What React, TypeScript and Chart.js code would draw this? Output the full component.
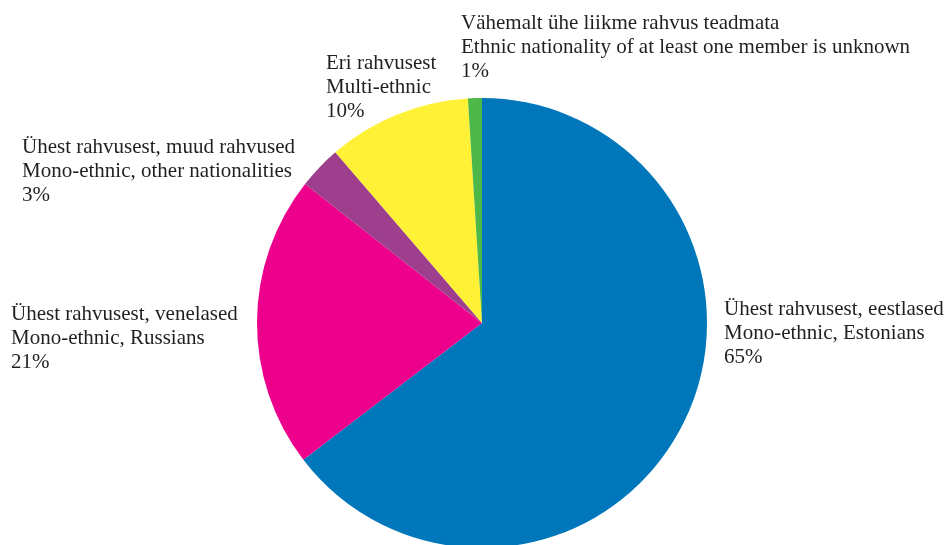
import React, { useEffect, useRef } from "react";
import { Chart, registerables } from "chart.js";

Chart.register(...registerables);

const categoriesEt = [
  "Ühest rahvusest, eestlased",
  "Ühest rahvusest, venelased",
  "Ühest rahvusest, muud rahvused",
  "Eri rahvusest",
  "Vähemalt ühe liikme rahvus teadmata",
];
const categoriesEn = [
  "Mono-ethnic, Estonians",
  "Mono-ethnic, Russians",
  "Mono-ethnic, other nationalities",
  "Multi-ethnic",
  "Ethnic nationality of at least one member is unknown",
];
const values = [64.6, 21.0, 3.1, 10.3, 1.0];
const percentLabels = ["65%", "21%", "3%", "10%", "1%"];
const colors = ["#0077BA", "#EC008C", "#9E3F8E", "#FFF136", "#4DB848"];

// label anchor (left x, first baseline y) per slice
const labelPos: [number, number][] = [
  [724, 315],
  [11, 320],
  [22, 153],
  [326, 69],
  [461, 29],
];

const labelPlugin = {
  id: "sliceLabels",
  afterDraw(chart: any) {
    const ctx = chart.ctx;
    ctx.save();
    ctx.font = "21px 'Liberation Serif', 'Times New Roman', serif";
    ctx.fillStyle = "#231F20";
    ctx.textAlign = "left";
    ctx.textBaseline = "alphabetic";
    for (let i = 0; i < values.length; i++) {
      const [x, y] = labelPos[i];
      const lines = [categoriesEt[i], categoriesEn[i], percentLabels[i]];
      lines.forEach((t, j) => ctx.fillText(t, x, y + j * 23.8));
    }
    ctx.restore();
  },
};

export default function App() {
  const ref = useRef<HTMLCanvasElement>(null);
  useEffect(() => {
    if (!ref.current) return;
    const chart = new Chart(ref.current, {
      type: "pie",
      data: {
        labels: categoriesEn,
        datasets: [
          {
            data: values,
            backgroundColor: colors,
            borderWidth: 0,
          },
        ],
      },
      options: {
        responsive: false,
        animation: false,
        layout: { padding: { top: 98, bottom: 12, left: 257, right: 243 } },
        plugins: {
          legend: { display: false },
          tooltip: { enabled: false },
        },
      },
      plugins: [labelPlugin],
    });
    return () => chart.destroy();
  }, []);
  return (
    <div
      style={{
        position: "fixed",
        left: 0,
        top: 0,
        width: 950,
        height: 545,
        overflow: "hidden",
        background: "#fff",
      }}
    >
      <canvas ref={ref} width={950} height={560} style={{ display: "block" }} />
    </div>
  );
}
